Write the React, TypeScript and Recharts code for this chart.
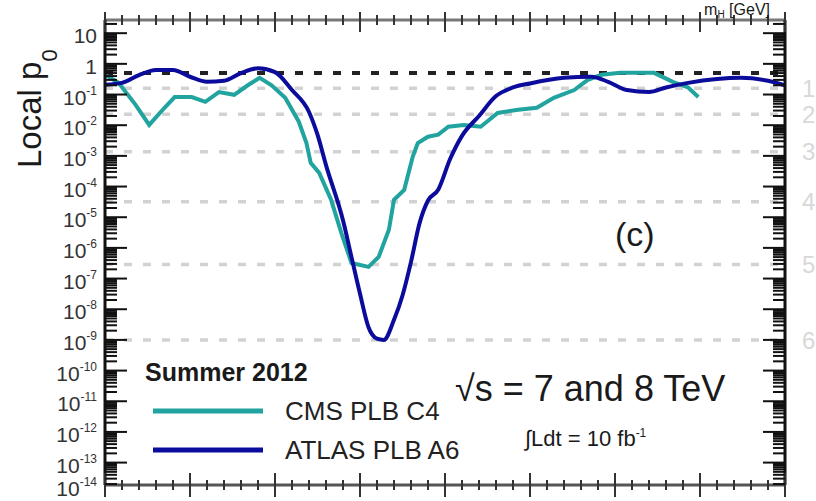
import React from "react";
import { LineChart, Line, XAxis, YAxis, ReferenceLine } from "recharts";

// ---- data ----
const CMS_MASS = [110, 110.8, 111.8, 112.6, 113.5, 114.1, 115.1, 115.9, 116.7, 117.6, 118.4, 119.1, 119.8, 120.6, 121.4, 121.85, 122.1, 122.6, 123.3, 123.9, 124.5, 125.5, 126.1, 126.7, 127.0, 127.6, 128.1, 128.4, 129.0, 129.6, 130.2, 131.1, 132.1, 133.1, 134.3, 135.4, 136.4, 137.6, 138.4, 139.2, 140.3, 142.3, 143.4, 144.3, 144.9];
const CMS_P = [0.44, 0.24, 0.046, 0.0102, 0.037, 0.083, 0.083, 0.058, 0.12, 0.098, 0.2, 0.35, 0.2, 0.078, 0.013, 2.6e-3, 5.9e-4, 2.8e-4, 3.7e-5, 3.1e-6, 3.2e-7, 2.4e-7, 5.1e-7, 3.9e-6, 3.7e-5, 7.8e-5, 9.3e-4, 2.6e-3, 4.2e-3, 4.9e-3, 8.9e-3, 0.0102, 8.9e-3, 0.025, 0.032, 0.037, 0.078, 0.14, 0.3, 0.44, 0.51, 0.51, 0.26, 0.17, 0.083];

const ATLAS_MASS = [110, 111, 112, 113, 114, 115, 116, 117, 118, 119, 120, 121, 122, 122.5, 123, 124, 124.5, 125, 125.5, 126, 126.4, 127, 127.5, 128, 128.5, 129, 129.6, 130.3, 131, 132, 133, 134, 135, 137, 138.6, 139.6, 140.7, 142, 143, 144.3, 146, 147.4, 149, 150];
const ATLAS_P = [0.21, 0.24, 0.43, 0.63, 0.63, 0.38, 0.26, 0.28, 0.5, 0.72, 0.54, 0.14, 0.027, 4.9e-3, 5e-4, 7.9e-6, 5e-7, 3.2e-8, 2.6e-9, 1.1e-9, 1e-9, 4.5e-9, 2.8e-8, 3.5e-7, 6.3e-6, 3.5e-5, 7.9e-5, 7.9e-4, 4.5e-3, 0.02, 0.089, 0.17, 0.23, 0.35, 0.38, 0.26, 0.14, 0.12, 0.17, 0.24, 0.32, 0.35, 0.28, 0.2];

const SIGMA_P = [0.1587, 0.02275, 1.35e-3, 3.167e-5, 2.867e-7, 9.866e-10];
const SIGMA_LABELS = ["1", "2", "3", "4", "5", "6"];
const P_HALF = 0.5;

const Y_MAJOR_EXP = [1, 0, -1, -2, -3, -4, -5, -6, -7, -8, -9, -10, -11, -12, -13, -14];
const Y_MIN = 1.86e-14;
const Y_MAX = 26.9;
const X_DOMAIN = [110, 150];
const X_TICKS = Array.from({ length: 41 }, (_, i) => 110 + i);

const Y_TICKS = [
  ...Y_MAJOR_EXP.map(e => Math.pow(10, e)),
  ...Y_MAJOR_EXP.flatMap(e => [2, 3, 4, 5, 6, 7, 8, 9].map(k => k * Math.pow(10, e))).filter(v => v <= Y_MAX),
];

const CMS_DATA = CMS_MASS.map((m, i) => ({ m, p: CMS_P[i] }));
const ATLAS_DATA = ATLAS_MASS.map((m, i) => ({ m, p: ATLAS_P[i] }));

// ---- layout ----
const W = 816, H = 501;
const M = { top: 19, right: 30, bottom: 15, left: 15 };
const Y_W = 90;
const PLOT_L = M.left + Y_W;
const PLOT_R = W - M.right - 1;
const PLOT_T = M.top + 1;
const PLOT_B = H - M.bottom - 1;

const FONT = '"Liberation Sans", Arial, Helvetica, sans-serif';
const TEAL = "#21a39f";
const NAVY = "#0c0c9c";
const INK = "#1a1a1a";

const isMajor = (v: number) => {
  const l = Math.log10(v);
  return Math.abs(l - Math.round(l)) < 1e-6;
};

function LeftTick({ y, payload }: any) {
  const v = payload.value;
  const major = isMajor(v);
  const e = Math.round(Math.log10(v));
  const inside = y <= PLOT_B + 0.5;
  // the lowest label sits below the frame; keep it inside the picture
  const ty = Math.min(y + 10, H - 5);
  return (
    <g>
      {inside && <line x1={PLOT_L} x2={PLOT_L + (major ? 22 : 12)} y1={y} y2={y} stroke="#111" strokeWidth={2} />}
      {major && (
        <text x={97} y={ty} textAnchor="end" fontSize={21} fill="#333" fontFamily={FONT}>
          {e === 1 ? "10" : e === 0 ? "1" : <>10<tspan dy={-10} fontSize={12}>{e}</tspan></>}
        </text>
      )}
    </g>
  );
}

function RightTick({ y, payload }: any) {
  if (y > PLOT_B + 0.5) return <g />;
  const major = isMajor(payload.value);
  return <line x1={PLOT_R} x2={PLOT_R - (major ? 22 : 12)} y1={y} y2={y} stroke="#111" strokeWidth={2} />;
}

function TopTick({ x, payload }: any) {
  const major = payload.value % 5 === 0;
  return <line x1={x} x2={x} y1={PLOT_T - (major ? 8 : 5)} y2={PLOT_T + (major ? 12 : 5)} stroke="#333" strokeWidth={2} />;
}

function BottomTick({ x, payload }: any) {
  const major = payload.value % 5 === 0;
  return <line x1={x} x2={x} y1={PLOT_B - (major ? 12 : 5)} y2={PLOT_B + (major ? 12 : 5)} stroke="#333" strokeWidth={2} />;
}

const SERIES = [
  { name: "CMS PLB C4", color: TEAL },
  { name: "ATLAS PLB A6", color: NAVY },
];

export default function App() {
  return (
    <div style={{ position: "absolute", left: 0, top: 0, width: W, height: H, overflow: "hidden", background: "#fff", fontFamily: FONT }}>
      <LineChart width={W} height={H} margin={M}>
        <XAxis xAxisId="top" orientation="top" type="number" dataKey="m" domain={X_DOMAIN} allowDataOverflow
          ticks={X_TICKS} interval={0} height={1} axisLine={{ stroke: "#777", strokeWidth: 3 }} tickLine={false}
          tick={(p: any) => <TopTick {...p} />} />
        <XAxis xAxisId="bottom" orientation="bottom" type="number" dataKey="m" domain={X_DOMAIN} allowDataOverflow
          ticks={X_TICKS} interval={0} height={1} axisLine={{ stroke: "#555", strokeWidth: 3 }} tickLine={false}
          tick={(p: any) => <BottomTick {...p} />} />
        <YAxis yAxisId="left" scale="log" type="number" domain={[Y_MIN, Y_MAX]} allowDataOverflow
          ticks={Y_TICKS} interval={0} width={Y_W} axisLine={{ stroke: "#111", strokeWidth: 3 }} tickLine={false}
          tick={(p: any) => <LeftTick {...p} />} />
        <YAxis yAxisId="right" orientation="right" scale="log" type="number" domain={[Y_MIN, Y_MAX]} allowDataOverflow
          ticks={Y_TICKS} interval={0} width={1} axisLine={{ stroke: "#111", strokeWidth: 3 }} tickLine={false}
          tick={(p: any) => <RightTick {...p} />} />

        {SIGMA_P.map((p, i) => (
          <ReferenceLine key={i} xAxisId="bottom" yAxisId="left" y={p} stroke="#d2d2d2" strokeWidth={3.5} strokeDasharray="8 11"
            label={{ value: SIGMA_LABELS[i], position: "right", offset: 17, fill: "#d8d8d8", fontSize: 24, fontFamily: FONT }} />
        ))}
        <ReferenceLine xAxisId="bottom" yAxisId="left" y={P_HALF} stroke="#222" strokeWidth={4} strokeDasharray="8 11" />

        <Line xAxisId="bottom" yAxisId="left" data={CMS_DATA} dataKey="p" name="CMS PLB C4" type="linear"
          stroke={TEAL} strokeWidth={4} dot={false} isAnimationActive={false} />
        <Line xAxisId="bottom" yAxisId="left" data={ATLAS_DATA} dataKey="p" name="ATLAS PLB A6" type="monotone"
          stroke={NAVY} strokeWidth={4} dot={false} isAnimationActive={false} />
      </LineChart>

      {/* annotations + legend */}
      <svg width={W} height={H} style={{ position: "absolute", left: 0, top: 0, pointerEvents: "none" }} fontFamily={FONT}>
        <text x={770} y={15} textAnchor="end" fontSize={16} fill={INK}>m<tspan dy={3} fontSize={10}>H</tspan><tspan dy={-3}> [GeV]</tspan></text>
        <text transform="rotate(-90 41 168)" x={41} y={168} fontSize={33} fill={INK}>
          Local p<tspan dy={16} fontSize={22}>0</tspan>
        </text>
        <text x={615} y={246} fontSize={34} fill={INK}>(c)</text>
        <text x={455} y={401} fontSize={36} fill={INK}>√s = 7 and 8 TeV</text>
        <text x={525} y={446} fontSize={22} fill={INK}>∫Ldt = 10 fb<tspan dy={-9} fontSize={12}>-1</tspan></text>

        <text x={145} y={381} fontSize={25} fontWeight="bold" fill={INK}>Summer 2012</text>
        {SERIES.map((s, i) => (
          <g key={s.name}>
            <line x1={153} x2={263} y1={411 + i * 39} y2={411 + i * 39} stroke={s.color} strokeWidth={5} />
            <text x={285} y={420 + i * 39} fontSize={26} fill="#222">{s.name}</text>
          </g>
        ))}
      </svg>
    </div>
  );
}
